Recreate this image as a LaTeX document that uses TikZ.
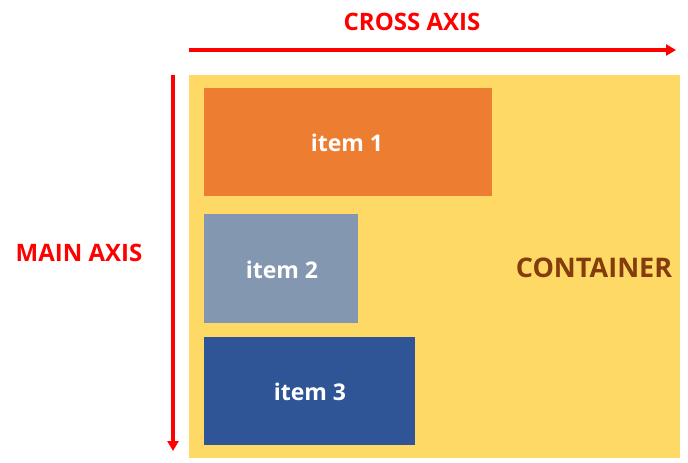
\documentclass[tikz,border=0pt]{standalone}
\usepackage{fontspec}
\setmainfont{Open Sans}
\usetikzlibrary{arrows.meta}
\definecolor{contfill}{HTML}{FFD966}
\definecolor{itemA}{HTML}{ED7D31}
\definecolor{itemB}{HTML}{8497B0}
\definecolor{itemC}{HTML}{2F5597}
\definecolor{conttext}{HTML}{843C0C}
\tikzset{
  box/.style={draw=none, inner sep=0pt, outer sep=0pt, anchor=north west},
  itemtext/.style={text=white, font=\fontsize{23}{26}\selectfont\bfseries},
  axis/.style={red, line width=3.5pt, -{Triangle[length=10pt,width=11pt]}},
  axislabel/.style={text=red, font=\fontsize{24}{28}\selectfont\bfseries}
}
\begin{document}
\begin{tikzpicture}[x=1pt,y=-1pt]
\useasboundingbox (0,0) rectangle (688,463);
\node[box, fill=contfill, minimum width=491pt, minimum height=383pt] (cont) at (189,75) {};
\node[box, fill=itemA, minimum width=288pt, minimum height=108pt] (i1) at (204,88) {};
\node[box, fill=itemB, minimum width=154pt, minimum height=109pt] (i2) at (204,214) {};
\node[box, fill=itemC, minimum width=211pt, minimum height=108pt] (i3) at (204,337) {};
\node[itemtext] (t1) at (347,143) {item 1};
\node[itemtext] (t2) at (282,270) {item 2};
\node[itemtext] (t3) at (310,392) {item 3};
\node[text=conttext, font=\fontsize{27}{30}\selectfont\bfseries] (ct) at (594,268) {CONTAINER};
\coordinate (hs) at (189,50);
\coordinate (he) at (676,50);
\coordinate (vs) at (173,75);
\coordinate (ve) at (173,451);
\draw[axis] (hs) -- (he);
\draw[axis] (vs) -- (ve);
\node[axislabel] (cross) at (412,22) {CROSS AXIS};
\node[axislabel] (main) at (79,253) {MAIN AXIS};
\end{tikzpicture}
\end{document}
